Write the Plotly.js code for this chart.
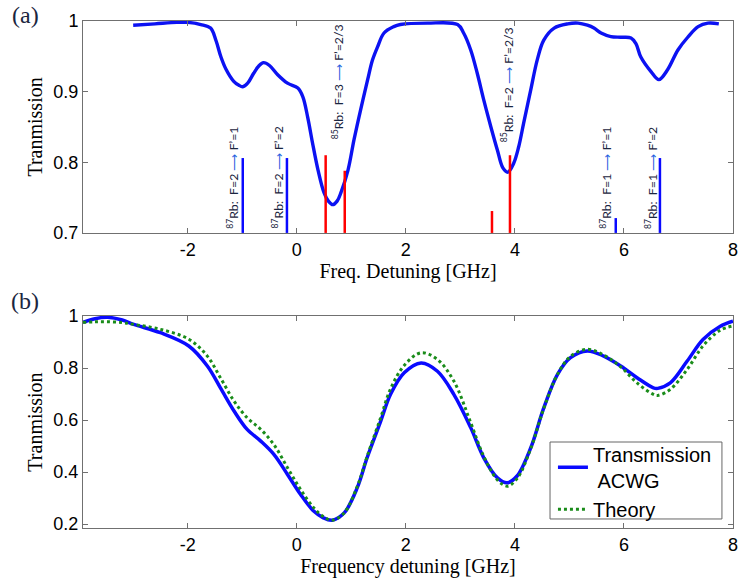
<!DOCTYPE html>
<html>
<head>
<meta charset="utf-8">
<script src="https://cdn.plot.ly/plotly-3.0.1.min.js"></script>
<style>html,body{margin:0;padding:0;background:#fff;}#chart{width:739px;height:583px;}</style>
</head>
<body>
<div id="chart"></div>
<script>
// ---- Panel (a): measured transmission ----
const topX = [-3.0,-2.6,-2.2,-2.0,-1.76,-1.58,-1.48,-1.39,-1.3,-1.16,-1.06,-0.99,-0.9,-0.79,-0.7,-0.61,-0.5,-0.35,-0.17,0.02,0.11,0.2,0.29,0.39,0.5,0.58,0.66,0.74,0.81,0.94,1.05,1.17,1.3,1.39,1.48,1.6,1.78,1.9,2.4,2.95,3.06,3.19,3.31,3.43,3.56,3.68,3.78,3.87,3.98,4.07,4.16,4.29,4.41,4.53,4.72,4.97,5.16,5.33,5.45,5.58,5.76,5.94,6.13,6.22,6.31,6.5,6.64,6.8,6.99,7.17,7.36,7.54,7.74];
const topY = [0.994,0.996,0.998,0.998,0.995,0.99,0.972,0.949,0.932,0.915,0.909,0.907,0.912,0.926,0.936,0.941,0.937,0.924,0.912,0.905,0.893,0.864,0.827,0.789,0.757,0.745,0.74,0.745,0.757,0.789,0.832,0.874,0.917,0.945,0.963,0.983,0.992,0.995,0.997,0.995,0.983,0.959,0.926,0.888,0.85,0.817,0.792,0.786,0.799,0.822,0.855,0.902,0.945,0.973,0.99,0.996,0.997,0.994,0.99,0.983,0.978,0.977,0.976,0.968,0.949,0.928,0.917,0.931,0.959,0.977,0.992,0.997,0.996];

// transition lines (GHz, line top)
const rb87LineX = [-0.99, -0.18, 5.85, 6.66];
const rb87LineH = [0.806, 0.806, 0.721, 0.806];
const rb85LineX = [0.53, 0.88, 3.58, 3.91];
const rb85LineH = [0.81, 0.788, 0.731, 0.81];
const lineBase = 0.7;

// transition labels
const labelIso   = ["87","87","85","85","87","87"];
const labelFrom  = ["F=2","F=2","F=3","F=2","F=1","F=1"];
const labelTo    = ["F’=1","F’=2","F’=2/3","F’=2/3","F’=1","F’=2"];
const labelX     = [-1.17, -0.35, 0.75, 3.87, 5.67, 6.5];
const labelY     = [0.703, 0.703, 0.83, 0.826, 0.703, 0.703];

// ---- Panel (b): ACWG vs theory ----
const botX = [-3.92,-3.7,-3.47,-3.2,-2.99,-2.5,-1.98,-1.64,-1.4,-1.15,-0.91,-0.66,-0.42,-0.17,0.07,0.31,0.48,0.65,0.87,1.11,1.29,1.54,1.72,1.97,2.28,2.58,2.88,3.19,3.43,3.68,3.86,4.04,4.29,4.53,4.78,5.02,5.33,5.63,5.94,6.24,6.54,6.62,6.85,7.16,7.45,7.76,8.0];
const acwgY = [0.976,0.99,0.995,0.985,0.968,0.936,0.885,0.808,0.724,0.635,0.564,0.519,0.468,0.391,0.314,0.25,0.225,0.215,0.243,0.34,0.455,0.596,0.699,0.782,0.82,0.788,0.699,0.571,0.455,0.378,0.359,0.385,0.493,0.647,0.775,0.84,0.866,0.846,0.808,0.763,0.724,0.722,0.743,0.827,0.91,0.96,0.98];
const theoryY = [0.976,0.978,0.978,0.975,0.968,0.949,0.911,0.846,0.763,0.673,0.609,0.564,0.506,0.417,0.333,0.263,0.23,0.215,0.243,0.345,0.46,0.61,0.72,0.81,0.859,0.833,0.75,0.59,0.46,0.37,0.346,0.375,0.49,0.645,0.775,0.845,0.872,0.85,0.805,0.743,0.699,0.695,0.718,0.795,0.885,0.945,0.962];

const xTicks = [-2,0,2,4,6,8];
const xTickText = ["-2","0","2","4","6","8"];

function stems(xs, hs) {
  const x = [], y = [];
  xs.forEach((v, i) => { x.push(v, v, null); y.push(lineBase, hs[i], null); });
  return {x, y};
}
const s87 = stems(rb87LineX, rb87LineH);
const s85 = stems(rb85LineX, rb85LineH);

const traces = [
  {x: topX, y: topY, xaxis:'x', yaxis:'y', mode:'lines', line:{color:'#0c12f2', width:3.4, shape:'spline'}, showlegend:false},
  {x: s87.x, y: s87.y, xaxis:'x', yaxis:'y', mode:'lines', line:{color:'#0a0aff', width:2.5}, showlegend:false},
  {x: s85.x, y: s85.y, xaxis:'x', yaxis:'y', mode:'lines', line:{color:'#ff0000', width:2.5}, showlegend:false},
  {x: botX, y: acwgY, xaxis:'x2', yaxis:'y2', mode:'lines', name:'Transmission<br> ACWG', line:{color:'#0a0aff', width:3.5, shape:'spline'}},
  {x: botX, y: theoryY, xaxis:'x2', yaxis:'y2', mode:'lines', name:'Theory', line:{color:'#1a8c1a', width:3, dash:'dot', shape:'spline'}}
];

const axisCommon = {
  showline:true, mirror:'ticks', linecolor:'#707070', linewidth:1,
  ticks:'inside', ticklen:5, tickcolor:'#707070', showgrid:false, zeroline:false,
  tickfont:{family:'Liberation Sans, Arial, sans-serif', size:18, color:'#000'}
};
const titleFont = {family:'Liberation Serif, Times New Roman, serif', size:20, color:'#000'};

const annotations = labelIso.map((iso, i) => ({
  x: labelX[i], y: labelY[i], xref:'x', yref:'y', xanchor:'center', yanchor:'bottom',
  textangle:-90, showarrow:false,
  text: '<sup>' + iso + '</sup>Rb:  ' + labelFrom[i] + ' <span style="color:#1f5fe0">⟶</span> ' + labelTo[i],
  font:{family:'Lato, Open Sans, sans-serif', size:12.3, color:'#1a2540'}
}));
annotations.push(
  {x:-0.089, y:1.012, xref:'paper', yref:'paper', text:'(a)', showarrow:false, xanchor:'center', yanchor:'middle', font:{family:'Liberation Serif, serif', size:24, color:'#1a2540'}},
  {x:-0.089, y:0.448, xref:'paper', yref:'paper', text:'(b)', showarrow:false, xanchor:'center', yanchor:'middle', font:{family:'Liberation Serif, serif', size:24, color:'#1a2540'}}
);

const layout = {
  width:739, height:583,
  margin:{l:83, r:6, t:21, b:55},
  paper_bgcolor:'#fff', plot_bgcolor:'#fff',
  showlegend:true,
  legend:{x:0.723, y:0.184, xanchor:'left', yanchor:'top', bgcolor:'rgba(0,0,0,0)', borderwidth:0,
          font:{family:'Liberation Sans, Arial, sans-serif', size:20, color:'#000'}},
  shapes:[{type:'rect', xref:'paper', yref:'paper', x0:0.7185, x1:0.983, y0:0.0178, y1:0.1696,
           fillcolor:'#fff', line:{color:'#666', width:1}, layer:'above'}],
  xaxis: Object.assign({}, axisCommon, {domain:[0,1], anchor:'y', range:[-3.92, 8], tickvals:xTicks, ticktext:xTickText,
          title:{text:'Freq. Detuning [GHz]', font:titleFont, standoff:3}}),
  yaxis: Object.assign({}, axisCommon, {domain:[0.582,1], anchor:'x', range:[0.7,1.0], dtick:0.1, tick0:0.7,
          title:{text:'Tranmission', font:titleFont, standoff:5}}),
  xaxis2: Object.assign({}, axisCommon, {domain:[0,1], anchor:'y2', range:[-3.92, 8], tickvals:xTicks, ticktext:xTickText,
          title:{text:'Frequency detuning [GHz]', font:titleFont, standoff:2}}),
  yaxis2: Object.assign({}, axisCommon, {domain:[0,0.418], anchor:'x2', range:[0.185,1.0], dtick:0.2, tick0:0.2,
          title:{text:'Tranmission', font:titleFont, standoff:5}}),
  annotations: annotations
};

Plotly.newPlot('chart', traces, layout, {displayModeBar:false, staticPlot:true});
</script>
</body>
</html>
